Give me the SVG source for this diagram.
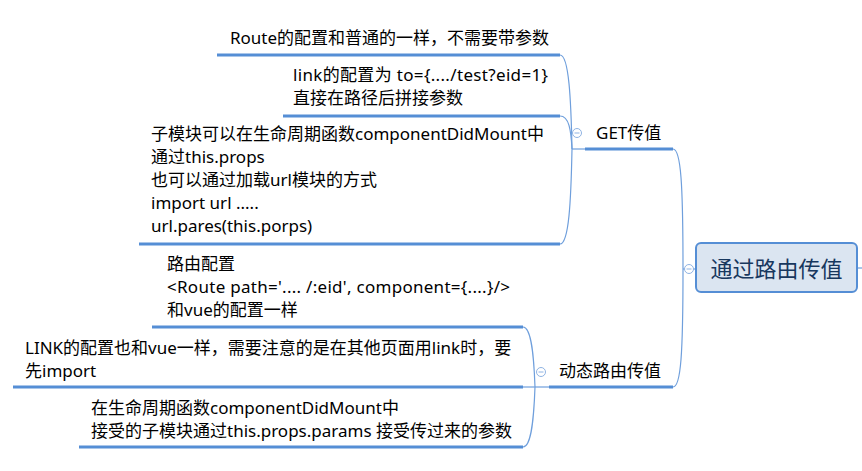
<svg xmlns="http://www.w3.org/2000/svg" width="862" height="471" viewBox="0 0 862 471">
<style>
.t{font-family:"Noto Sans","Noto Sans CJK SC",sans-serif;font-size:17px;fill:#000}
.root{font-family:"Noto Sans CJK SC","Noto Sans",sans-serif;font-size:22px;fill:#17375e}
.ul{stroke:#558ed5;stroke-width:3;fill:none}
.c{stroke:#6f9fdc;stroke-width:1.2;fill:none}
.cb circle{fill:#fff;stroke:#8fb3e3;stroke-width:1}
.cb line{stroke:#8fb3e3;stroke-width:1}
</style>
<rect width="862" height="471" fill="#fff"/>
<g id="connectors">
<path class="c" d="M683,269 C683,185 681,149 673,149"/>
<path class="c" d="M683,269 C683,353 681,387 673,387"/>
<path class="c" d="M683,269 L696,269"/>
<path class="c" d="M857,268 L862,268"/>
<path class="c" d="M572,149 C571,100 569,55 560,55"/>
<path class="c" d="M572,149 C571,130 569,116 560,116"/>
<path class="c" d="M572,149 C571,200 569,244 560,244"/>
<path class="c" d="M572,149 L585,149"/>
<path class="c" d="M535,387 C534,360 532,327 523,327"/>
<path class="c" d="M535,387 L523,387"/>
<path class="c" d="M535,387 C534,414 532,447 523,447"/>
<path class="c" d="M535,387 L549,387"/>
</g>
<g id="root">
<rect x="696" y="243" width="161" height="49" rx="5" fill="#dbe5f1" stroke="#558ed5" stroke-width="2"/>
<text class="root" x="776.5" y="277" text-anchor="middle">通过路由传值</text>
</g>
<g id="get">
<text class="t" x="596" y="139">GET传值</text>
<line class="ul" x1="585" y1="149" x2="673" y2="149"/>
</g>
<g id="dynamic">
<text class="t" x="559" y="377">动态路由传值</text>
<line class="ul" x1="549" y1="387" x2="673" y2="387"/>
</g>
<g id="get-route">
<text class="t" x="230" y="44">Route的配置和普通的一样，不需要带参数</text>
<line class="ul" x1="217" y1="55" x2="560" y2="55"/>
</g>
<g id="get-link">
<text class="t" x="293" y="81" textLength="255" lengthAdjust="spacing">link的配置为 to={..../test?eid=1}</text>
<text class="t" x="293" y="104">直接在路径后拼接参数</text>
<line class="ul" x1="283" y1="116" x2="560" y2="116"/>
</g>
<g id="get-child">
<text class="t" x="151" y="140">子模块可以在生命周期函数componentDidMount中</text>
<text class="t" x="151" y="163">通过this.props</text>
<text class="t" x="151" y="186">也可以通过加载url模块的方式</text>
<text class="t" x="151" y="209">import url .....</text>
<text class="t" x="151" y="232">url.pares(this.porps)</text>
<line class="ul" x1="139" y1="244" x2="560" y2="244"/>
</g>
<g id="dyn-route">
<text class="t" x="167" y="270">路由配置</text>
<text class="t" x="167" y="293" textLength="343" lengthAdjust="spacing">&lt;Route path='.... /:eid', component={....}/&gt;</text>
<text class="t" x="167" y="316">和vue的配置一样</text>
<line class="ul" x1="152" y1="327" x2="523" y2="327"/>
</g>
<g id="dyn-link">
<text class="t" x="25" y="354">LINK的配置也和vue一样，需要注意的是在其他页面用link时，要</text>
<text class="t" x="25" y="377">先import</text>
<line class="ul" x1="13" y1="387" x2="523" y2="387"/>
</g>
<g id="dyn-child">
<text class="t" x="91" y="414">在生命周期函数componentDidMount中</text>
<text class="t" x="91" y="437">接受的子模块通过this.props.params 接受传过来的参数</text>
<line class="ul" x1="79" y1="447" x2="523" y2="447"/>
</g>
<g id="toggles" class="cb">
<circle cx="577" cy="133" r="4.5"/><line x1="574.5" y1="133" x2="579.5" y2="133"/>
<circle cx="541" cy="372" r="4.5"/><line x1="538.5" y1="372" x2="543.5" y2="372"/>
<circle cx="689" cy="269" r="4.5"/><line x1="686.5" y1="269" x2="691.5" y2="269"/>
</g>
</svg>
